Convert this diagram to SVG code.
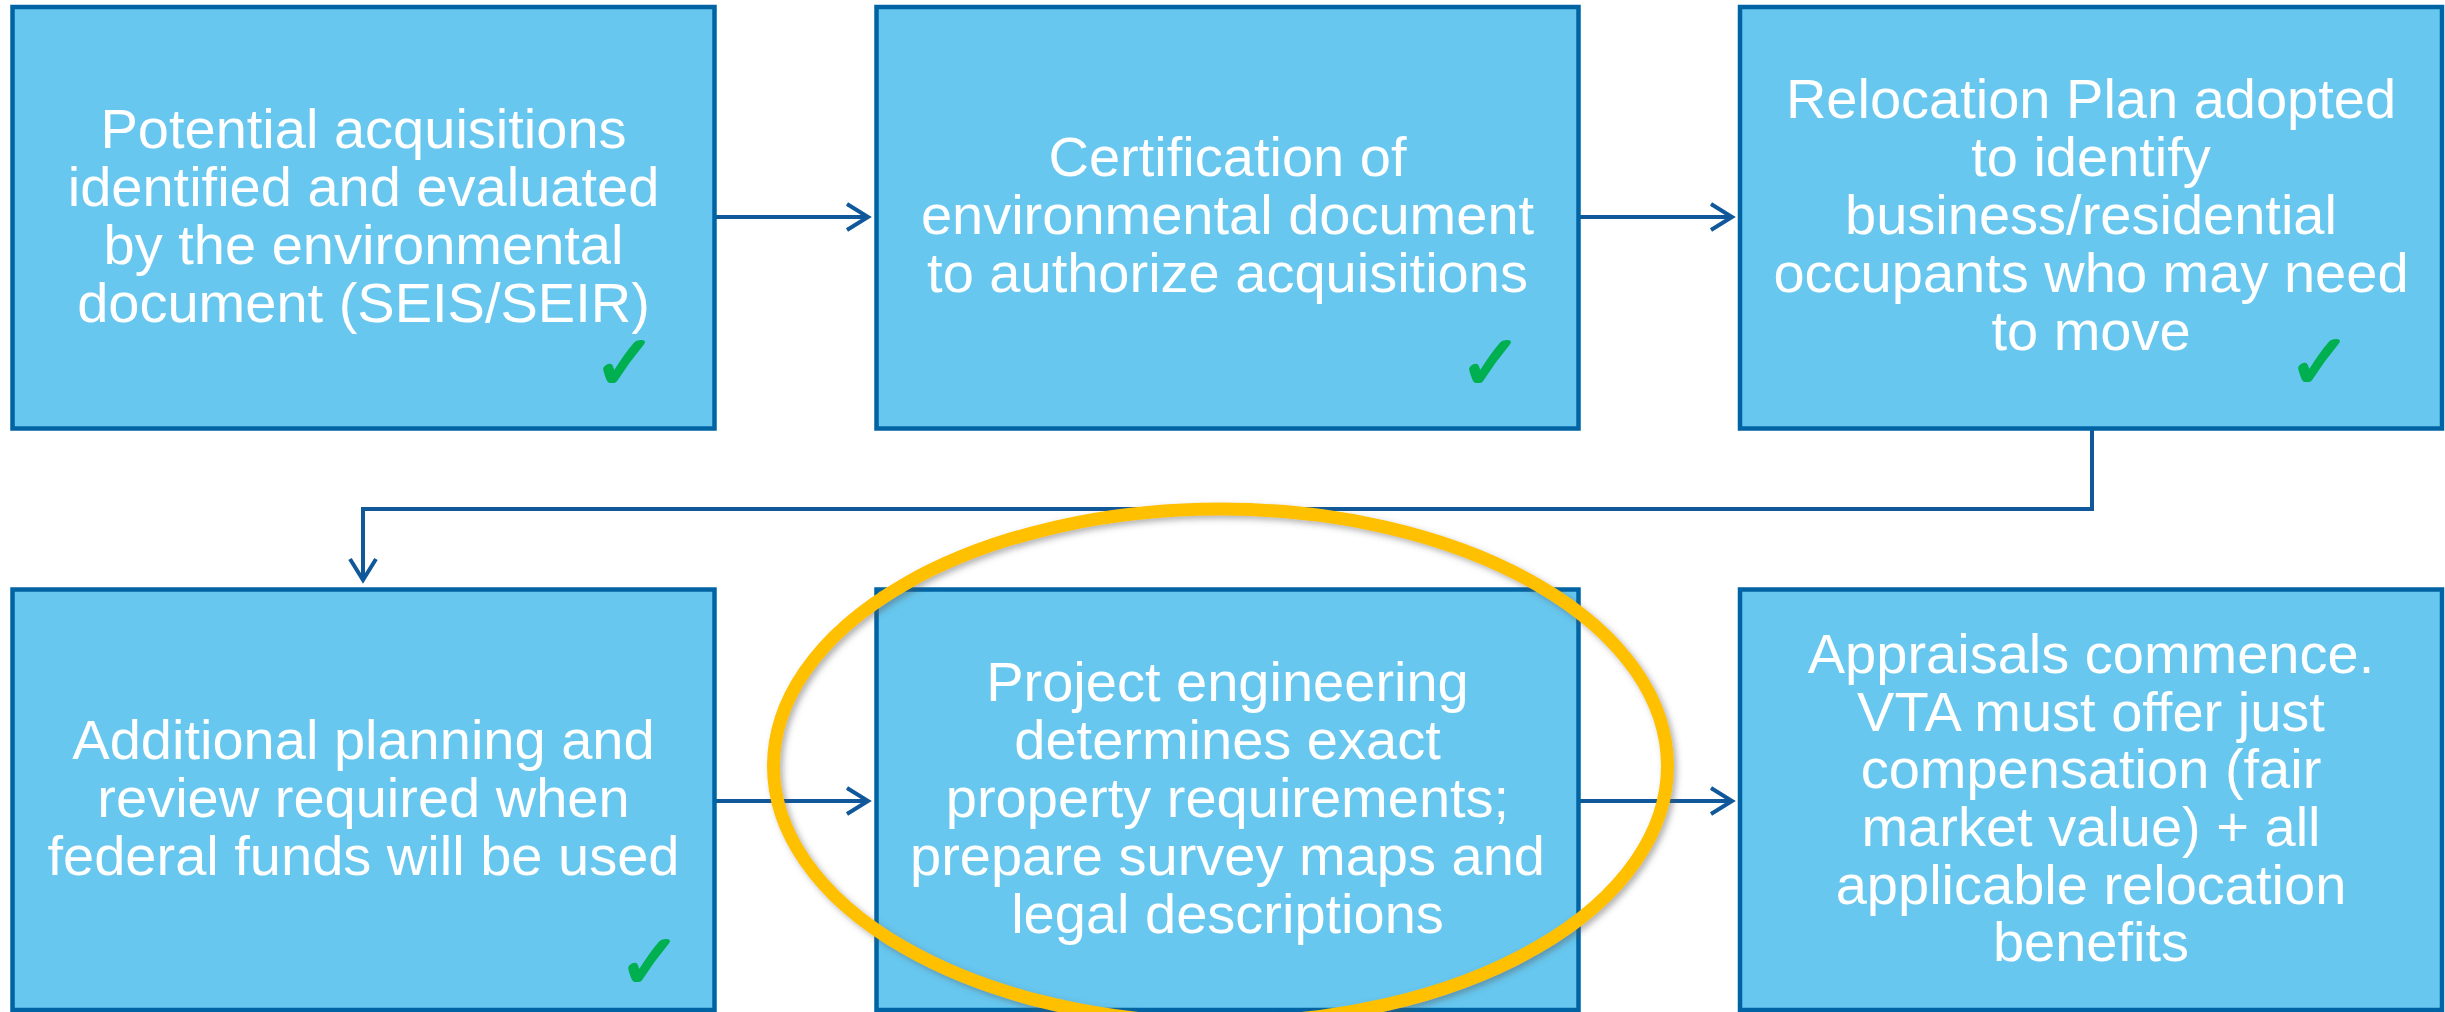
<svg xmlns="http://www.w3.org/2000/svg" width="2445" height="1012" viewBox="0 0 2445 1012">
<style>
.box{fill:#67C7EF;stroke:#0064A4;stroke-width:4.5}
.t{font-family:"Liberation Sans",Arial,sans-serif;font-size:56px;fill:#FFFFFF;text-anchor:middle}
.chk{font-family:"DejaVu Sans",sans-serif;font-size:76px;fill:#00B050;stroke:#00B050;stroke-width:2.5;stroke-linejoin:round}
.con{fill:none;stroke:#11589A;stroke-width:4}
</style>
<defs>
<marker id="ah" markerUnits="userSpaceOnUse" viewBox="-26 -18 30 36" markerWidth="30" markerHeight="36" refX="0" refY="0" orient="auto">
<path d="M-21,-13 L0,0 L-21,13" fill="none" stroke="#11589A" stroke-width="4" stroke-linejoin="miter"/>
</marker>
<filter id="sh" x="-10%" y="-10%" width="120%" height="120%">
<feDropShadow dx="3" dy="3" stdDeviation="3" flood-color="#555555" flood-opacity="0.45"/>
</filter>
</defs>
<g id="connectors">
<line class="con" x1="715" y1="217" x2="868" y2="217" marker-end="url(#ah)"/>
<line class="con" x1="1579" y1="217" x2="1732" y2="217" marker-end="url(#ah)"/>
<polyline class="con" points="2092,429 2092,509 363,509 363,580" marker-end="url(#ah)"/>
<line class="con" x1="715" y1="801" x2="868" y2="801" marker-end="url(#ah)"/>
<line class="con" x1="1579" y1="801" x2="1732" y2="801" marker-end="url(#ah)"/>
</g>
<g id="node1">
<rect class="box" x="12.5" y="7" width="702" height="421.5"/>
<text class="t"><tspan x="363.5" y="148">Potential acquisitions</tspan><tspan x="363.5" y="206">identified and evaluated</tspan><tspan x="363.5" y="264">by the environmental</tspan><tspan x="363.5" y="322">document (SEIS/SEIR)</tspan></text>
<text class="chk" x="593" y="389">✓</text>
</g>
<g id="node2">
<rect class="box" x="876.5" y="7" width="702" height="421.5"/>
<text class="t"><tspan x="1227.5" y="176">Certification of</tspan><tspan x="1227.5" y="234">environmental document</tspan><tspan x="1227.5" y="292">to authorize acquisitions</tspan></text>
<text class="chk" x="1459" y="389">✓</text>
</g>
<g id="node3">
<rect class="box" x="1740" y="7" width="702" height="421.5"/>
<text class="t"><tspan x="2091" y="118">Relocation Plan adopted</tspan><tspan x="2091" y="176">to identify</tspan><tspan x="2091" y="234">business/residential</tspan><tspan x="2091" y="292">occupants who may need</tspan><tspan x="2091" y="350">to move</tspan></text>
<text class="chk" x="2288" y="388">✓</text>
</g>
<g id="node4">
<rect class="box" x="12.5" y="589.5" width="702" height="420.5"/>
<text class="t"><tspan x="363.5" y="759">Additional planning and</tspan><tspan x="363.5" y="817">review required when</tspan><tspan x="363.5" y="875">federal funds will be used</tspan></text>
<text class="chk" x="618" y="988">✓</text>
</g>
<g id="node5">
<rect class="box" x="876.5" y="589.5" width="702" height="420.5"/>
<text class="t"><tspan x="1227.5" y="701">Project engineering</tspan><tspan x="1227.5" y="759">determines exact</tspan><tspan x="1227.5" y="817">property requirements;</tspan><tspan x="1227.5" y="875">prepare survey maps and</tspan><tspan x="1227.5" y="933">legal descriptions</tspan></text>
</g>
<g id="node6">
<rect class="box" x="1740" y="589.5" width="702" height="420.5"/>
<text class="t"><tspan x="2091" y="673">Appraisals commence.</tspan><tspan x="2091" y="731">VTA must offer just</tspan><tspan x="2091" y="788">compensation (fair</tspan><tspan x="2091" y="846">market value) + all</tspan><tspan x="2091" y="904">applicable relocation</tspan><tspan x="2091" y="961">benefits</tspan></text>
</g>
<g id="highlight">
<ellipse cx="1220.5" cy="766" rx="447" ry="257" fill="none" stroke="#FFC000" stroke-width="13" filter="url(#sh)"/>
</g>
</svg>
